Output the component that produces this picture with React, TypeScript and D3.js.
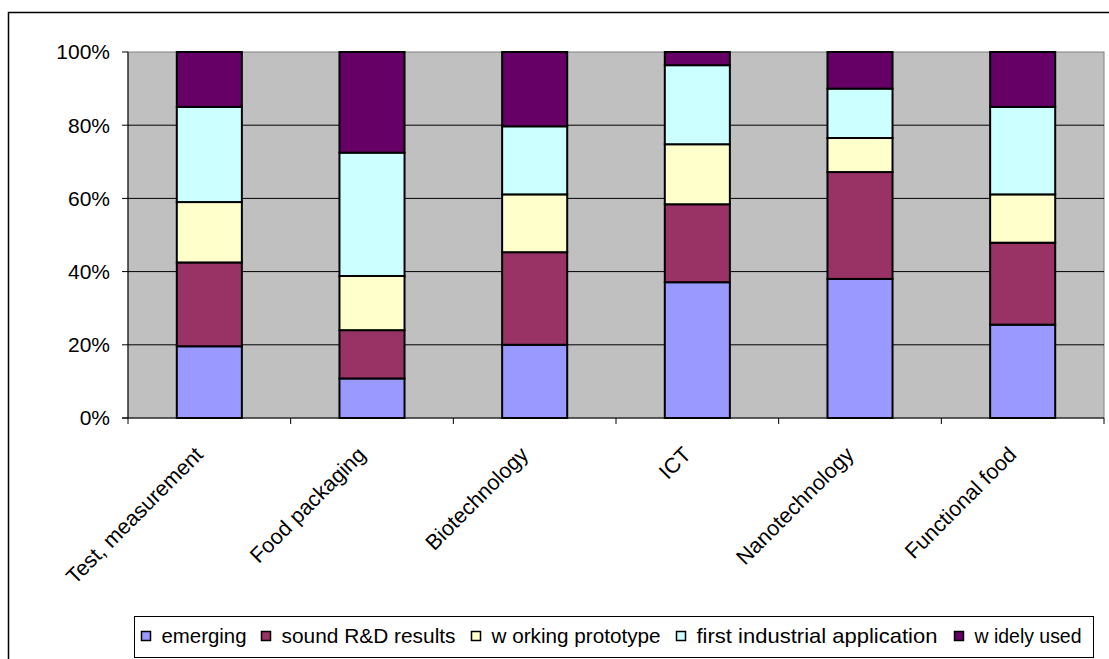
import React from 'react';
import * as d3 from 'd3';

const categories = ['Test, measurement', 'Food packaging', 'Biotechnology', 'ICT', 'Nanotechnology', 'Functional food'];
const seriesNames = ['emerging', 'sound R&D results', 'w orking prototype', 'first industrial application', 'w idely used'];
const seriesColors = ['#9999FF', '#993366', '#FFFFCC', '#CCFFFF', '#660066'];

const emerging = [19.6, 10.8, 20.0, 37.1, 38.0, 25.5];
const soundRD = [22.9, 13.2, 25.3, 21.3, 29.2, 22.4];
const workingPrototype = [16.5, 14.8, 15.8, 16.4, 9.3, 13.2];
const firstIndustrial = [26.0, 33.7, 18.6, 21.6, 13.5, 23.9];
const widelyUsed = [15.0, 27.5, 20.3, 3.6, 10.0, 15.0];

const yTicks = [0, 0.2, 0.4, 0.6, 0.8, 1];

const width = 1109;
const height = 659;
const plot = { left: 128, right: 1104, top: 52, bottom: 418 };
const font = '"Liberation Sans", Arial, sans-serif';

// legend slots (left of swatch) and text widths, as laid out in the original
const legendSlots = [141.5, 261.5, 471.5, 676.5, 954.5];
const legendTextWidths = [85, 174, 169, 241, 107];

export default function App() {
  const values = [emerging, soundRD, workingPrototype, firstIndustrial, widelyUsed];
  const rows = categories.map((c, i) => {
    const r: any = { category: c };
    seriesNames.forEach((s, j) => { r[s] = values[j][i]; });
    return r;
  });
  const stacked = d3.stack().keys(seriesNames).offset(d3.stackOffsetExpand)(rows);

  const x = d3.scaleBand().domain(categories).range([plot.left, plot.right]).paddingInner(0.6).paddingOuter(0.3);
  const y = d3.scaleLinear().domain([0, 1]).range([plot.bottom, plot.top]);
  const fmt = d3.format('.0%');

  return (
    <svg width={width} height={height} style={{ position: 'absolute', left: 0, top: 0, background: '#fff' }} fontFamily={font}>
      <rect x={8.5} y={12.5} width={width} height={height} fill="#fff" stroke="#000" strokeWidth={1.5} />

      <rect x={plot.left} y={plot.top} width={plot.right - plot.left} height={plot.bottom - plot.top} fill="#C0C0C0" stroke="#808080" strokeWidth={1} />

      {yTicks.filter(t => t > 0 && t < 1).map(t => (
        <line key={t} x1={plot.left} x2={plot.right} y1={y(t)} y2={y(t)} stroke="#000" strokeWidth={1} />
      ))}

      {stacked.map((layer, j) => (
        <g key={layer.key} fill={seriesColors[j]}>
          {layer.map((d: any) => (
            <rect
              key={d.data.category}
              x={x(d.data.category)}
              y={y(d[1])}
              width={x.bandwidth()}
              height={y(d[0]) - y(d[1])}
              stroke="#000"
              strokeWidth={2}
            />
          ))}
        </g>
      ))}

      <line x1={plot.left} x2={plot.left} y1={plot.top} y2={plot.bottom} stroke="#000" strokeWidth={1} />
      <line x1={plot.left - 6} x2={plot.right} y1={plot.bottom} y2={plot.bottom} stroke="#000" strokeWidth={1} />

      {yTicks.map(t => (
        <g key={t} transform={`translate(0,${y(t)})`}>
          <line x1={plot.left - 6} x2={plot.left} stroke="#000" />
          <text x={110} dy="0.35em" textAnchor="end" fontSize={21} fill="#000">{fmt(t)}</text>
        </g>
      ))}

      {d3.range(categories.length + 1).map(i => {
        const xx = plot.left + i * x.step();
        return <line key={i} x1={xx} x2={xx} y1={plot.bottom} y2={plot.bottom + 6} stroke="#000" />;
      })}

      {categories.map(c => {
        const cx = (x(c) as number) + x.bandwidth() / 2 - 5;
        return (
          <text key={c} transform={`translate(${cx},456) rotate(-45)`} textAnchor="end" fontSize={21.5} fill="#000">{c}</text>
        );
      })}

      <rect x={134.5} y={616.5} width={959} height={41} fill="#fff" stroke="#000" strokeWidth={1} />
      {seriesNames.map((s, i) => (
        <g key={s}>
          <rect x={legendSlots[i]} y={631.5} width={9} height={9} fill={seriesColors[i]} stroke="#000" strokeWidth={1.5} />
          <text x={legendSlots[i] + 20} y={636} dy="0.35em" fontSize={21} fill="#000"
            textLength={legendTextWidths[i]} lengthAdjust="spacingAndGlyphs">{s}</text>
        </g>
      ))}
    </svg>
  );
}
